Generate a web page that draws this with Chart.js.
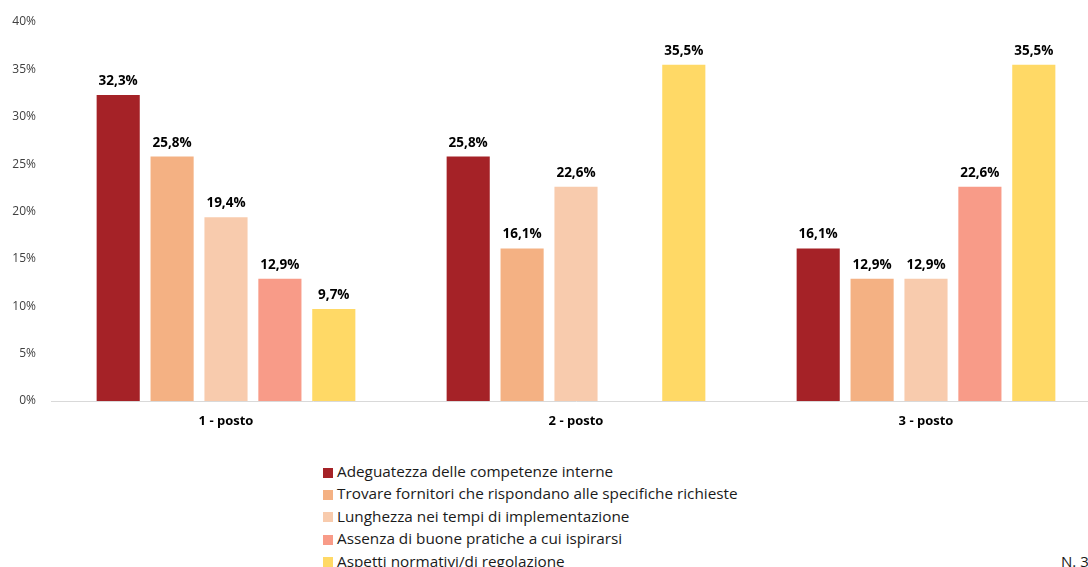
<!DOCTYPE html>
<html>
<head>
<meta charset="utf-8">
<script src="https://cdn.jsdelivr.net/npm/chart.js@4"></script>
<style>
  html, body { margin: 0; padding: 0; background: #fff; overflow: hidden; width: 1088px; height: 567px; }
  #wrap { position: absolute; left: 0; top: 0; width: 1101px; height: 440px; }
  #legend { position: absolute; left: 323px; top: 460px; font-family: "Open Sans", sans-serif; font-size: 15.3px; color: #1a1a1a; }
  #legend div { height: 22.4px; line-height: 22.4px; white-space: nowrap; }
  #legend span { display: inline-block; width: 10px; height: 10px; margin-right: 4px; vertical-align: -0.5px; }
  #note { position: absolute; left: 1061px; top: 551px; font-family: "Open Sans", sans-serif; font-size: 15px; color: #1a1a1a; white-space: nowrap; }
</style>
</head>
<body>
<div id="wrap"><canvas id="chart"></canvas></div>
<div id="legend"></div>
<div id="note">N. 31</div>
<script>
const categories = ["1 - posto", "2 - posto", "3 - posto"];
const seriesNames = [
  "Adeguatezza delle competenze interne",
  "Trovare fornitori che rispondano alle specifiche richieste",
  "Lunghezza nei tempi di implementazione",
  "Assenza di buone pratiche a cui ispirarsi",
  "Aspetti normativi/di regolazione"
];
const competenze = [32.3, 25.8, 16.1];
const fornitori = [25.8, 16.1, 12.9];
const lunghezza = [19.4, 22.6, 12.9];
const buonePratiche = [12.9, null, 22.6];
const normativi = [9.7, 35.5, 35.5];
const colors = ["#A52227", "#F4B183", "#F8CBAD", "#F89B88", "#FFD966"];
const yTicks = [0, 5, 10, 15, 20, 25, 30, 35, 40];

const values = [competenze, fornitori, lunghezza, buonePratiche, normativi];

const barLabels = {
  id: "barLabels",
  afterDatasetsDraw(chart) {
    const ctx = chart.ctx;
    ctx.save();
    ctx.font = "bold 13.5px 'Open Sans', sans-serif";
    ctx.fillStyle = "#000";
    ctx.textAlign = "center";
    ctx.textBaseline = "alphabetic";
    chart.data.datasets.forEach((ds, i) => {
      chart.getDatasetMeta(i).data.forEach((bar, j) => {
        const v = ds.data[j];
        if (v == null) return;
        ctx.fillText(v.toFixed(1).replace(".", ",") + "%", bar.x, bar.y - 10);
      });
    });
    ctx.restore();
  }
};

new Chart(document.getElementById("chart"), {
  type: "bar",
  data: {
    labels: categories,
    datasets: seriesNames.map((name, i) => ({
      label: name,
      data: values[i],
      backgroundColor: colors[i],
      barPercentage: 0.8,
      categoryPercentage: 0.77
    }))
  },
  options: {
    responsive: true,
    maintainAspectRatio: false,
    animation: false,
    layout: { padding: { top: 22, left: 0, right: 0, bottom: 0 } },
    plugins: { legend: { display: false }, tooltip: { enabled: false } },
    scales: {
      x: {
        grid: { display: false },
        border: { display: true, color: "#D9D9D9", width: 1 },
        ticks: { color: "#000", font: { family: "'Open Sans', sans-serif", size: 13, weight: "bold" }, padding: 4 },
        afterFit: s => { s.height = 39; }
      },
      y: {
        min: 0,
        max: 40,
        grid: { display: false },
        border: { display: false },
        afterBuildTicks: s => { s.ticks = yTicks.map(v => ({ value: v })); },
        ticks: {
          color: "#404040",
          font: { family: "'Open Sans', sans-serif", size: 12 },
          padding: 7,
          callback: v => v + "%"
        },
        afterFit: s => { s.width = 51; }
      }
    }
  },
  plugins: [barLabels]
});

const legend = document.getElementById("legend");
seriesNames.forEach((name, i) => {
  const row = document.createElement("div");
  row.innerHTML = `<span style="background:${colors[i]}"></span>${name}`;
  legend.appendChild(row);
});
</script>
</body>
</html>
